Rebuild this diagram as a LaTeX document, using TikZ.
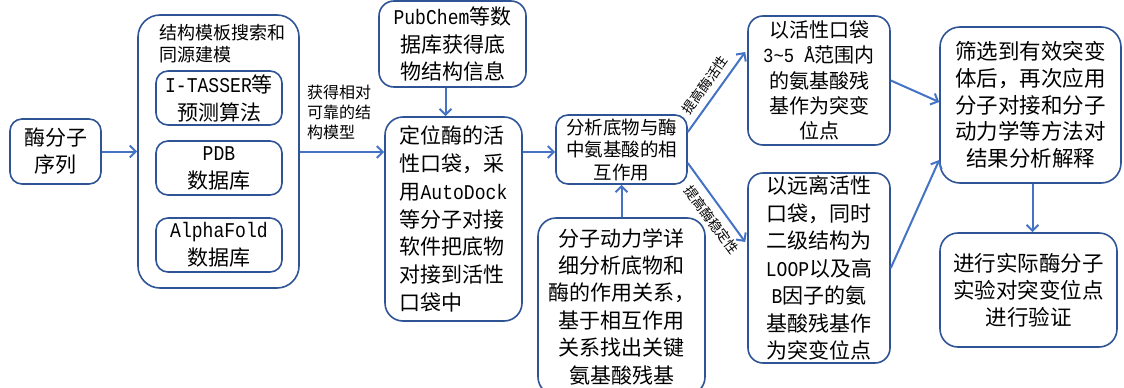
\documentclass[tikz,border=0pt]{standalone}
\usepackage{fontspec}
\setmainfont{Noto Sans CJK SC}
\newfontfamily\latm[FakeStretch=0.86]{Liberation Mono}
\usetikzlibrary{arrows.meta,calc}
\definecolor{boxc}{RGB}{47,84,150}
\definecolor{arrc}{RGB}{68,114,196}
\newcommand{\setfs}[2]{\fontsize{#1}{#2}\selectfont}
\begin{document}
\begin{tikzpicture}[x=1pt,y=-1pt,
  bx/.style={draw=boxc, line width=1.6pt, rounded corners=12pt, align=center, inner sep=0pt},
  arr/.style={draw=arrc, line width=2pt, -{Straight Barb[length=6pt,width=12pt]}},
  lbl/.style={font=\setfs{13.5}{16}, text=black, inner sep=0pt}]
\useasboundingbox (0,0) rectangle (1124,388);

% left part
\node[bx, minimum width=91, minimum height=65, font=\setfs{21}{27}] (seq) at (55.5,151.5) {酶分子\\序列};
\node[bx, rounded corners=22pt, minimum width=161, minimum height=273] (outer) at (218.5,151.5) {};
\node[anchor=west, align=left, inner sep=0pt, font=\setfs{18}{22}] (title) at (159,44) {结构模板搜索和\\同源建模};
\node[bx, minimum width=126, minimum height=54, font=\setfs{21}{28}] (itasser) at (219,98) {{\latm I-TASSER}等\\预测算法};
\node[bx, minimum width=126, minimum height=54, font=\setfs{21}{28}] (pdb) at (219,168) {{\latm PDB}\\数据库};
\node[bx, minimum width=126, minimum height=54, font=\setfs{21}{28}] (alpha) at (219,245) {{\latm AlphaFold}\\数据库};
\node[anchor=west, align=left, inner sep=0pt, font=\setfs{16}{20}] (model) at (307,112) {获得相对\\可靠的结\\构模型};

% middle part
\node[bx, rounded corners=15pt, minimum width=147, minimum height=86, font=\setfs{21}{27.5}] (pubchem) at (452.5,44) {{\latm PubChem}等数\\据库获得底\\物结构信息};
\node[bx, rounded corners=18pt, minimum width=137, minimum height=204, font=\setfs{21}{27.8}, align=left] (locate) at (453.5,219) {定位酶的活\\性口袋，采\\用{\latm AutoDock}\\等分子对接\\软件把底物\\对接到活性\\口袋中};
\node[bx, minimum width=131, minimum height=69, font=\setfs{18.5}{22.5}] (analyze) at (621.5,149.5) {分析底物与酶\\中氨基酸的相\\互作用};
\node[bx, rounded corners=18pt, minimum width=167, minimum height=177, font=\setfs{21}{27.4}] (md) at (621.5,306.5) {分子动力学详\\细分析底物和\\酶的作用关系，\\基于相互作用\\关系找出关键\\氨基酸残基};

% right part
\node[bx, rounded corners=15pt, minimum width=142, minimum height=129, font=\setfs{20}{25.3}] (active) at (819,80.5) {以活性口袋\\{\latm 3\textasciitilde5 Å}范围内\\的氨基酸残\\基作为突变\\位点};
\node[bx, rounded corners=15pt, minimum width=142, minimum height=190, font=\setfs{21}{27.5}] (far) at (819,268) {以远离活性\\口袋，同时\\二级结构为\\{\latm LOOP}以及高\\{\latm B}因子的氨\\基酸残基作\\为突变位点};
\node[bx, rounded corners=20pt, minimum width=181, minimum height=156, font=\setfs{21.5}{26.7}] (screen) at (1030.5,105) {筛选到有效突变\\体后，再次应用\\分子对接和分子\\动力学等方法对\\结果分析解释};
\node[bx, rounded corners=18pt, minimum width=177, minimum height=114, font=\setfs{21.5}{27}] (verify) at (1028.5,290) {进行实际酶分子\\实验对突变位点\\进行验证};

% arrow labels
\node[lbl, rotate=54.5] (upl) at (705,85) {提高酶活性};
\node[lbl, rotate=-53.7] (lowl) at (712,220) {提高酶稳定性};

% connectors
\draw[arr] (seq.east) -- (seq.east -| outer.west);
\draw[arr] ($(outer.east)+(0,0.5)$) -- ($(outer.east -| locate.west)+(0,0.5)$);
\draw[arr] ($(pubchem.south)+(-7,0)$) -- ($(pubchem.south |- locate.north)+(-7,0)$);
\draw[arr] ($(analyze.west -| locate.east)+(0,2.5)$) -- ($(analyze.west)+(0,2.5)$);
\draw[arr] (md.north) -- (md.north |- analyze.south);
\draw[arr] ($(analyze.east)+(0,-17.5)$) -- ($(active.west)+(-2,-28.5)$);
\draw[arr] ($(analyze.east)+(0,13.5)$) -- ($(far.west)+(-2,-26)$);
\draw[arr] (active.east) -- ($(screen.west)+(0,-3)$);
\draw[arr] (far.east) -- ($(screen.west)+(0,55)$);
\draw[arr] ($(screen.south)+(2,0)$) -- ($(screen.south |- verify.north)+(2,0)$);
\end{tikzpicture}
\end{document}
